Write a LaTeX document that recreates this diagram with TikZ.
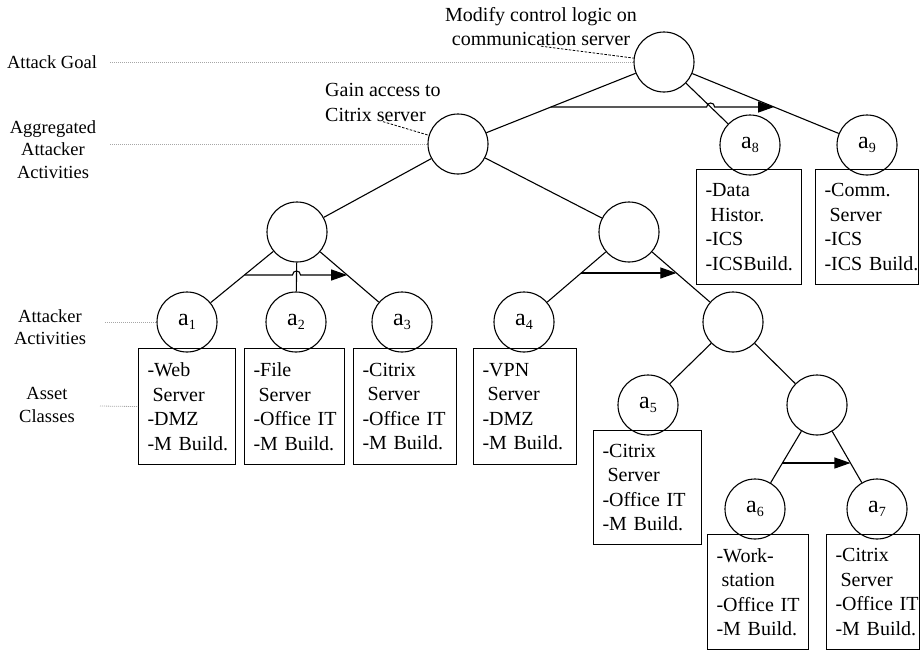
\documentclass[tikz,border=0pt]{standalone}
\usepackage{fontspec}
\setmainfont{Liberation Serif}
\usetikzlibrary{arrows.meta,calc}
\newcommand\actlbl[1]{{\fontsize{24}{24}\selectfont a}\raisebox{-0.45ex}{\fontsize{14}{14}\selectfont #1}}
\begin{document}
\begin{tikzpicture}[x=1pt,y=-1pt,
  every node/.style={font=\fontsize{20}{24.5}\selectfont},
  act/.style={circle,draw,line width=1.1pt,minimum size=60pt,inner sep=0pt},
  asset/.style={draw,line width=1.1pt,anchor=north west,align=left,inner xsep=9pt,inner ysep=0pt,
    execute at begin node={\exhyphenpenalty=10000 \hyphenpenalty=10000 }},
  edge/.style={line width=1.1pt},
  seq/.style={line width=1.1pt,-{Triangle[length=16pt,width=11pt]}},
  guide/.style={gray!70,line width=0.8pt,dash pattern=on 1pt off 1pt},
  leader/.style={black,line width=0.8pt,dash pattern=on 2.5pt off 1.5pt},
  lvl/.style={font=\fontsize{18.5}{22.5}\selectfont,align=center,inner sep=0pt,anchor=north}
]
\useasboundingbox (0,0) rectangle (920,651);

% activity circles
\node[act] (T)  at (664,62)  {};
\node[act] (G)  at (458,144) {};
\node[act] (a8) at (750,145) {\actlbl{8}};
\node[act] (a9) at (867,145) {\actlbl{9}};
\node[act] (L)  at (297,232) {};
\node[act] (R)  at (629,232) {};
\node[act] (a1) at (187,322) {\actlbl{1}};
\node[act] (a2) at (296,322) {\actlbl{2}};
\node[act] (a3) at (402,322) {\actlbl{3}};
\node[act] (a4) at (524,322) {\actlbl{4}};
\node[act] (RR) at (733,322) {};
\node[act] (a5) at (648,405) {\actlbl{5}};
\node[act] (S)  at (817,405) {};
\node[act] (a6) at (755,509) {\actlbl{6}};
\node[act] (a7) at (877,509) {\actlbl{7}};

% asset boxes
\node[asset,minimum width=97pt,minimum height=116pt,text width=79pt] (b1) at (138,348) {-Web\\\hspace*{0.25em}Server\\-DMZ\\-M~Build.};
\node[asset,minimum width=100pt,minimum height=116pt,text width=82pt] (b2) at (244,348) {-File\\\hspace*{0.25em}Server\\-Office~IT\\-M~Build.};
\node[asset,minimum width=103pt,minimum height=116pt,text width=85pt] (b3) at (353,348) {-Citrix\\\hspace*{0.25em}Server\\-Office~IT\\-M~Build.};
\node[asset,minimum width=103pt,minimum height=116pt,text width=85pt] (b4) at (473,348) {-VPN\\\hspace*{0.25em}Server\\-DMZ\\-M~Build.};
\node[asset,minimum width=108pt,minimum height=114pt,text width=90pt] (b5) at (593,430) {-Citrix\\\hspace*{0.25em}Server\\-Office~IT\\-M~Build.};
\node[asset,minimum width=101pt,minimum height=115pt,text width=83pt] (b6) at (707,534) {-Work-\\\hspace*{0.25em}station\\-Office~IT\\-M~Build.};
\node[asset,minimum width=93pt,minimum height=115pt,text width=75pt] (b7) at (826,534) {-Citrix\\\hspace*{0.25em}Server\\-Office~IT\\-M~Build.};
\node[asset,minimum width=105pt,minimum height=115pt,text width=87pt] (b8) at (696,169) {-Data\\\hspace*{0.25em}Histor.\\-ICS\\-ICSBuild.};
\node[asset,minimum width=103pt,minimum height=115pt,text width=85pt] (b9) at (815,169) {-Comm.\\\hspace*{0.25em}Server\\-ICS\\-ICS~Build.};

% tree edges
\draw[edge] (T) -- (G);
\draw[edge] (T) -- (a8);
\draw[edge] (T) -- (a9);
\draw[edge] (G) -- (L);
\draw[edge] (G) -- (R);
\draw[edge] (L) -- (a1);
\draw[edge] (L) -- (a2);
\draw[edge] (L) -- (a3);
\draw[edge] (R) -- (a4);
\draw[edge] (R) -- (RR);
\draw[edge] (RR) -- (a5);
\draw[edge] (RR) -- (S);
\draw[edge] (S) -- (a6);
\draw[edge] (S) -- (a7);

% sequence arrows
\coordinate (s1a) at ($(T)!0.5488!(G)$);
\coordinate (s1b) at ($(T)!0.5422!(a9)$);
\coordinate (h1)  at ($(T)!0.5422!(a8)$);
\draw[seq] (s1a) -- ($(h1)+(-4,0)$) .. controls +(0,-5.3) and +(0,-5.3) .. ($(h1)+(4,0)$) -- (s1b);

\coordinate (s2a) at ($(L)!0.4778!(a1)$);
\coordinate (s2b) at ($(L)!0.4778!(a3)$);
\coordinate (h2)  at ($(L)!0.4778!(a2)$);
\draw[seq] (s2a) -- ($(h2)+(-4,0)$) .. controls +(0,-5.3) and +(0,-5.3) .. ($(h2)+(4,0)$) -- (s2b);

\coordinate (s3a) at ($(R)!0.4556!(a4)$);
\coordinate (s3b) at ($(R)!0.4556!(RR)$);
\draw[seq] (s3a) -- (s3b);

\coordinate (s4a) at ($(S)!0.5577!(a6)$);
\coordinate (s4b) at ($(S)!0.5577!(a7)$);
\draw[seq] (s4a) -- (s4b);

% annotations
\node[anchor=north,align=center,inner sep=0pt] (mod) at (541,7) {Modify control logic on\\communication server};
\draw[leader] (mod.south) -- (T);
\node[anchor=north west,align=left,inner sep=0pt] (gain) at (325,83.3) {Gain access to\\Citrix server};
\draw[leader] (gain.south) -- (G);

% level labels
\node[lvl] (lg)   at (52,55.4)  {Attack Goal};
\node[lvl] (lagg) at (53,120.4) {Aggregated\\Attacker\\Activities};
\node[lvl] (lact) at (50,309.4) {Attacker\\Activities};
\node[lvl] (lass) at (47,387.4) {Asset\\Classes};

\coordinate (g1) at (110,62);
\coordinate (g2) at (110,144);
\coordinate (g3) at (105,322);
\coordinate (g4) at (100,406);
\draw[guide] (g1) -- (T.west);
\draw[guide] (g2) -- (G.west);
\draw[guide] (g3) -- (a1.west);
\draw[guide] (g4) -- (b1.west);
\end{tikzpicture}
\end{document}
